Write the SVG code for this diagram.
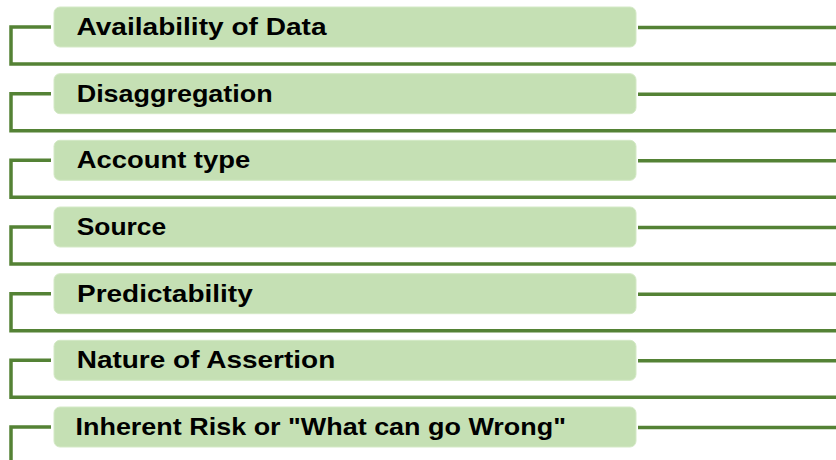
<svg xmlns="http://www.w3.org/2000/svg" width="836" height="460" viewBox="0 0 836 460">
<style>
.box{fill:#C5E0B4;stroke:#D4E9C6;stroke-width:1}
.lbl{font-family:"Liberation Sans",Arial,sans-serif;font-weight:bold;font-size:24px;fill:#000}
.ln{fill:none;stroke:#548235;stroke-width:3.5}
</style>
<rect width="836" height="460" fill="#fff"/>
<g id="connectors">
<path class="ln" d="M51 27H11V64H836M638 27.5H836"/>
<path class="ln" d="M51 93.7H11V130.7H836M638 94.2H836"/>
<path class="ln" d="M51 160.3H11V197.3H836M638 160.8H836"/>
<path class="ln" d="M51 227H11V264H836M638 227.5H836"/>
<path class="ln" d="M51 293.7H11V330.7H836M638 294.2H836"/>
<path class="ln" d="M51 360.3H11V397.3H836M638 360.8H836"/>
<path class="ln" d="M51 427H11V460M638 427.5H836"/>
</g>
<g id="n1"><rect class="box" x="54" y="7" width="582" height="40" rx="6"/><text class="lbl" x="76.5" y="35" textLength="250" lengthAdjust="spacingAndGlyphs">Availability of Data</text></g>
<g id="n2"><rect class="box" x="54" y="73.7" width="582" height="40" rx="6"/><text class="lbl" x="76.7" y="101.7" textLength="196" lengthAdjust="spacingAndGlyphs">Disaggregation</text></g>
<g id="n3"><rect class="box" x="54" y="140.3" width="582" height="40" rx="6"/><text class="lbl" x="76.7" y="168.3" textLength="173.5" lengthAdjust="spacingAndGlyphs">Account type</text></g>
<g id="n4"><rect class="box" x="54" y="207" width="582" height="40" rx="6"/><text class="lbl" x="76.7" y="235" textLength="89.5" lengthAdjust="spacingAndGlyphs">Source</text></g>
<g id="n5"><rect class="box" x="54" y="273.7" width="582" height="40" rx="6"/><text class="lbl" x="77" y="301.7" textLength="175.7" lengthAdjust="spacingAndGlyphs">Predictability</text></g>
<g id="n6"><rect class="box" x="54" y="340.3" width="582" height="40" rx="6"/><text class="lbl" x="76.7" y="368.3" textLength="258.6" lengthAdjust="spacingAndGlyphs">Nature of Assertion</text></g>
<g id="n7"><rect class="box" x="54" y="407" width="582" height="40" rx="6"/><text class="lbl" x="75.5" y="435" textLength="490.5" lengthAdjust="spacingAndGlyphs">Inherent Risk or "What can go Wrong"</text></g>
</svg>
